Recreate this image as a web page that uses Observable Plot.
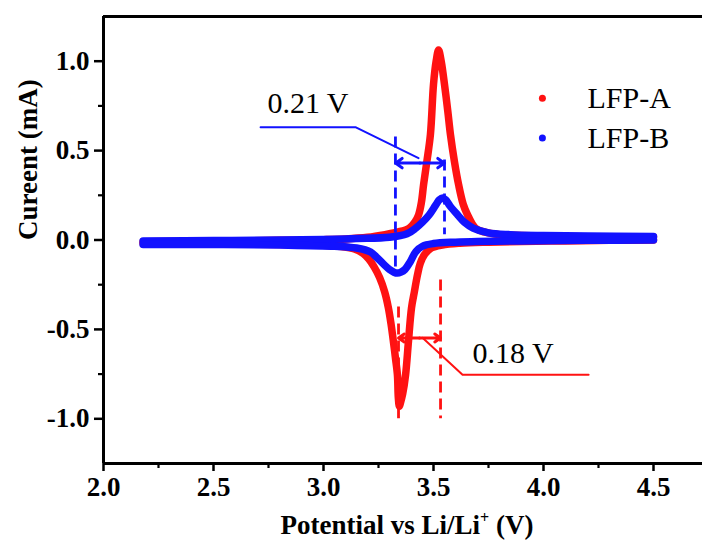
<!DOCTYPE html>
<html>
<head>
<meta charset="utf-8">
<script src="https://cdn.jsdelivr.net/npm/d3@7"></script>
<script src="https://cdn.jsdelivr.net/npm/@observablehq/plot@0.6"></script>
<style>
  html, body { margin: 0; padding: 0; background: #fff; overflow: hidden; }
  #chart { width: 702px; height: 543px; }
</style>
</head>
<body>
<div id="chart"></div>
<script>
// ---- Data ----
// LFP-A (red): anodic (oxidation) branch, 2.18 -> 4.5 V
const aOxV = [2.18, 2.4, 2.6, 2.8, 3.0, 3.1, 3.2, 3.28, 3.34, 3.39, 3.415, 3.432, 3.445, 3.455, 3.47, 3.486, 3.50, 3.512, 3.523, 3.535, 3.55, 3.565, 3.577, 3.595, 3.614, 3.635, 3.655, 3.69, 3.73, 3.8, 3.9, 4.1, 4.3, 4.5];
const aOxI = [-0.01, -0.008, -0.005, -0.002, 0.002, 0.006, 0.015, 0.03, 0.045, 0.067, 0.10, 0.14, 0.21, 0.31, 0.44, 0.59, 0.87, 1.0, 1.063, 1.0, 0.87, 0.72, 0.59, 0.44, 0.31, 0.2, 0.14, 0.067, 0.045, 0.03, 0.025, 0.02, 0.018, 0.017];
// LFP-A (red): cathodic (reduction) branch, 4.5 -> 2.18 V
const aRedV = [4.5, 4.3, 4.1, 3.9, 3.75, 3.62, 3.54, 3.49, 3.46, 3.44, 3.427, 3.413, 3.40, 3.386, 3.373, 3.36, 3.35, 3.345, 3.34, 3.336, 3.327, 3.318, 3.307, 3.295, 3.278, 3.255, 3.23, 3.205, 3.18, 3.14, 3.08, 3.0, 2.8, 2.6, 2.4, 2.18];
const aRedI = [0.0, -0.002, -0.005, -0.008, -0.012, -0.018, -0.028, -0.045, -0.08, -0.13, -0.196, -0.29, -0.38, -0.57, -0.755, -0.86, -0.91, -0.93, -0.88, -0.755, -0.66, -0.57, -0.47, -0.38, -0.29, -0.21, -0.15, -0.105, -0.075, -0.05, -0.037, -0.03, -0.025, -0.022, -0.02, -0.02];
// LFP-B (blue): anodic branch
const bOxV = [2.18, 2.5, 2.8, 3.0, 3.15, 3.3, 3.38, 3.42, 3.45, 3.48, 3.51, 3.527, 3.541, 3.555, 3.575, 3.61, 3.64, 3.68, 3.75, 3.85, 4.0, 4.2, 4.5];
const bOxI = [-0.005, -0.003, 0.0, 0.003, 0.008, 0.015, 0.035, 0.067, 0.10, 0.14, 0.195, 0.225, 0.235, 0.225, 0.19, 0.14, 0.10, 0.067, 0.04, 0.03, 0.025, 0.022, 0.02];
// LFP-B (blue): cathodic branch
const bRedV = [4.5, 4.2, 3.9, 3.7, 3.6, 3.5, 3.45, 3.42, 3.395, 3.37, 3.352, 3.336, 3.32, 3.30, 3.273, 3.24, 3.214, 3.15, 3.05, 2.8, 2.5, 2.18];
const bRedI = [0.0, -0.002, -0.005, -0.008, -0.012, -0.02, -0.035, -0.065, -0.12, -0.165, -0.18, -0.185, -0.18, -0.165, -0.135, -0.095, -0.067, -0.045, -0.035, -0.028, -0.025, -0.025];

// Axis ticks
const xTicks = [2.0, 2.5, 3.0, 3.5, 4.0, 4.5];
const xMinor = [2.25, 2.75, 3.25, 3.75, 4.25];
const yTicks = [-1.0, -0.5, 0.0, 0.5, 1.0];
const yMinor = [-0.75, -0.25, 0.25, 0.75];

// Legend
const seriesNames = ["LFP-A", "LFP-B"];
const seriesColors = ["#ff1212", "#1212ff"];

// Annotations: peak-separation markers
const blueDashX = [3.327, 3.55];
const blueDashTop = [0.576, 0.447];
const blueDashBottom = [-0.168, 0.03];
const blueArrowY = 0.43;
const blueLeaderX = [2.714, 3.145, 3.432];
const blueLeaderY = [0.631, 0.631, 0.458];
const blueLabel = "0.21 V";
const blueLabelPos = [2.745, 0.71];

const redDashX = [3.341, 3.532];
const redDashTop = [-0.375, -0.224];
const redDashBottom = [-1.0, -1.0];
const redArrowY = -0.548;
const redLeaderX = [3.45, 3.632, 4.205];
const redLeaderY = [-0.547, -0.754, -0.754];
const redLabel = "0.18 V";
const redLabelPos = [3.677, -0.688];

// ---- Build tables ----
const zip = (xs, ys) => xs.map((x, i) => ({x, y: ys[i]}));
const aOx = zip(aOxV, aOxI), aRed = zip(aRedV, aRedI);
const bOx = zip(bOxV, bOxI), bRed = zip(bRedV, bRedI);
const dashes = (xs, tops, bots) => xs.map((x, i) => ({x, y1: tops[i], y2: bots[i]}));
const arrows = (xs, y) => {
  const mid = (xs[0] + xs[1]) / 2;
  return [{x1: mid, x2: xs[0], y}, {x1: mid, x2: xs[1], y}];
};

const red = seriesColors[0], blue = seriesColors[1];
const font = "'Liberation Serif', 'Times New Roman', serif";
const curveOpts = (c) => ({x: "x", y: "y", stroke: c, strokeWidth: 7.5, curve: "catmull-rom", strokeLinecap: "round", strokeLinejoin: "round"});

const chart = Plot.plot({
  width: 702,
  height: 543,
  marginLeft: 103,
  marginRight: 0,
  marginTop: 16,
  marginBottom: 80,
  x: {domain: [2, 2 + (702 - 103) / 220]},
  y: {domain: [-1.25, 1.25]},
  style: {fontFamily: font, color: "black", background: "white"},
  marks: [
    // curves
    Plot.line(aOx, curveOpts(red)),
    Plot.line(aRed, curveOpts(red)),
    Plot.line(bOx, curveOpts(blue)),
    Plot.line(bRed, curveOpts(blue)),
    // dashed markers
    Plot.ruleX(dashes(blueDashX, blueDashTop, blueDashBottom), {x: "x", y1: "y1", y2: "y2", stroke: blue, strokeWidth: 2.8, strokeDasharray: "11,6"}),
    Plot.ruleX(dashes(redDashX, redDashTop, redDashBottom), {x: "x", y1: "y1", y2: "y2", stroke: red, strokeWidth: 2.8, strokeDasharray: "11,6"}),
    Plot.arrow(arrows(blueDashX, blueArrowY), {x1: "x1", x2: "x2", y1: "y", y2: "y", stroke: blue, strokeWidth: 3, headLength: 11, headAngle: 70}),
    Plot.arrow(arrows(redDashX, redArrowY), {x1: "x1", x2: "x2", y1: "y", y2: "y", stroke: red, strokeWidth: 3, headLength: 11, headAngle: 70}),
    Plot.line(zip(blueLeaderX, blueLeaderY), {x: "x", y: "y", stroke: blue, strokeWidth: 2}),
    Plot.line(zip(redLeaderX, redLeaderY), {x: "x", y: "y", stroke: red, strokeWidth: 2}),
    Plot.text([blueLabel], {x: blueLabelPos[0], y: blueLabelPos[1], text: d => d, textAnchor: "start", lineAnchor: "bottom", fontSize: 30, fill: "black"}),
    Plot.text([redLabel], {x: redLabelPos[0], y: redLabelPos[1], text: d => d, textAnchor: "start", lineAnchor: "bottom", fontSize: 30, fill: "black"}),
    // legend
    Plot.dot(seriesNames, {x: 3.995, y: (d, i) => 0.793 - i * 0.223, r: 3.5, fill: (d, i) => seriesColors[i], stroke: null}),
    Plot.text(seriesNames, {x: 4.2, y: (d, i) => 0.793 - i * 0.223, text: d => d, textAnchor: "start", lineAnchor: "middle", fontSize: 30, fill: "black"}),
    // axes
    Plot.axisX(xTicks, {tickSize: 8, tickPadding: 5, tickFormat: d => d.toFixed(1), fontSize: 27, fontWeight: "bold", strokeWidth: 2.5, label: null}),
    Plot.axisX(xMinor, {tickSize: 5, tickFormat: () => "", strokeWidth: 2.2, label: null}),
    Plot.axisY(yTicks, {tickSize: 9, tickPadding: 5, tickFormat: d => d.toFixed(1), fontSize: 27, fontWeight: "bold", strokeWidth: 2.5, label: null}),
    Plot.axisY(yMinor, {tickSize: 5, tickFormat: () => "", strokeWidth: 2.2, label: null}),
    // frame lines (left, bottom, top; right edge is beyond the picture)
    Plot.ruleX([2], {strokeWidth: 3, stroke: "black"}),
    Plot.ruleY([-1.25], {strokeWidth: 3, stroke: "black"}),
    Plot.ruleY([1.25], {strokeWidth: 3, stroke: "black"}),
    // axis titles
    Plot.text(["Cureent (mA)"], {frameAnchor: "left", dx: -75, rotate: -90, text: d => d, fontSize: 27, fontWeight: "bold", fill: "black"}),
    Plot.text(["Potential vs Li/Li+ (V)"], {frameAnchor: "bottom", dy: 70, dx: 4, text: d => d, lineAnchor: "bottom", fontSize: 27, fontWeight: "bold", fill: "black"})
  ]
});

document.getElementById("chart").appendChild(chart);

// superscript "+" in the x-axis title
d3.select(chart).selectAll("text").each(function() {
  if (this.textContent === "Potential vs Li/Li+ (V)") {
    this.textContent = "";
    const t = d3.select(this);
    t.append("tspan").text("Potential vs Li/Li");
    t.append("tspan").attr("dy", -11).attr("font-size", 16).text("+");
    t.append("tspan").attr("dy", 11).text(" (V)");
  }
});
</script>
</body>
</html>
